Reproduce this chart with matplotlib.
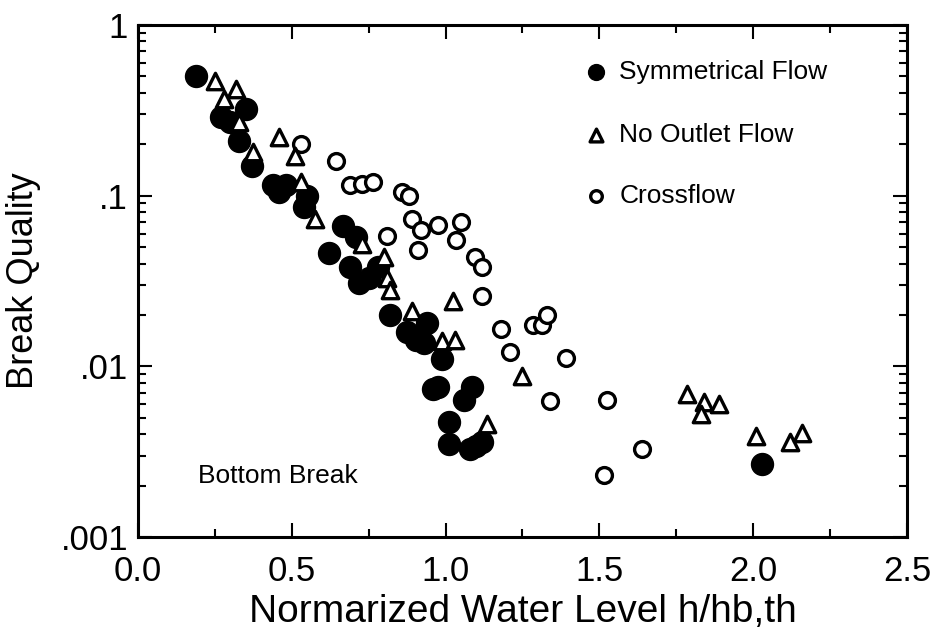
import numpy as np
import matplotlib
matplotlib.use("Agg")
import matplotlib.pyplot as plt
from matplotlib.ticker import FixedLocator, FixedFormatter, LogLocator, MultipleLocator, NullFormatter

plt.rcParams['font.family'] = ['Liberation Sans', 'DejaVu Sans']

# Symmetrical Flow (filled circles)
sym_x = [0.19, 0.27, 0.35, 0.30, 0.33, 0.37, 0.44, 0.48, 0.46, 0.55, 0.54,
         0.667, 0.62, 0.69, 0.72, 0.75, 0.71, 0.78, 0.82, 0.875, 0.905, 0.94,
         0.93, 0.99, 0.96, 0.975, 1.085, 1.06, 1.01, 1.01, 1.08, 1.10, 1.12, 2.03]
sym_y = [0.50, 0.29, 0.32, 0.27, 0.21, 0.15, 0.115, 0.115, 0.105, 0.10, 0.086,
         0.066, 0.046, 0.038, 0.031, 0.033, 0.057, 0.038, 0.020, 0.0158, 0.0143, 0.018,
         0.0137, 0.011, 0.0074, 0.0076, 0.0076, 0.0064, 0.0047, 0.0035, 0.0033, 0.0034, 0.0036, 0.0027]

# No Outlet Flow (open triangles)
nof_x = [0.25, 0.32, 0.28, 0.33, 0.375, 0.46, 0.51, 0.53, 0.575, 0.73, 0.80,
         0.81, 0.82, 0.89, 0.99, 1.03, 1.025, 1.25, 1.135, 1.785, 1.84, 1.83,
         1.89, 2.01, 2.12, 2.16]
nof_y = [0.47, 0.42, 0.37, 0.27, 0.18, 0.22, 0.17, 0.12, 0.073, 0.052, 0.044,
         0.033, 0.028, 0.021, 0.0140, 0.0143, 0.024, 0.0088, 0.0046, 0.0069, 0.0062, 0.0053,
         0.0060, 0.0039, 0.0036, 0.0041]

# Crossflow (open circles)
cf_x = [0.53, 0.645, 0.69, 0.73, 0.765, 0.86, 0.88, 0.89, 0.92, 0.91, 0.81,
        0.975, 1.05, 1.035, 1.095, 1.12, 1.12, 1.18, 1.21, 1.285, 1.315, 1.33,
        1.39, 1.34, 1.525, 1.64, 1.515]
cf_y = [0.20, 0.16, 0.115, 0.117, 0.12, 0.105, 0.10, 0.073, 0.063, 0.048, 0.058,
        0.067, 0.070, 0.055, 0.044, 0.038, 0.026, 0.0165, 0.0122, 0.0175, 0.0175, 0.020,
        0.0112, 0.0063, 0.0064, 0.0033, 0.0023]

legend_labels = ['Symmetrical Flow', 'No Outlet Flow', 'Crossflow']
xtick_labels = ['0.0', '0.5', '1.0', '1.5', '2.0', '2.5']
ytick_labels = ['.001', '.01', '.1', '1']

fig = plt.figure(figsize=(9.38, 6.38), dpi=100)
ax = fig.add_axes([0.147, 0.158, 0.820, 0.803])

ax.scatter(sym_x, sym_y, s=250, c='black', marker='o', zorder=3)
ax.scatter(cf_x, cf_y, s=130, facecolors='white', edgecolors='black',
           linewidths=2.4, marker='o', zorder=4)
ax.scatter(nof_x, nof_y, s=140, facecolors='white', edgecolors='black',
           linewidths=2.4, marker='^', zorder=5)

ax.set_yscale('log')
ax.set_xlim(0, 2.5)
ax.set_ylim(0.001, 1)

ax.set_xticks([0, 0.5, 1.0, 1.5, 2.0, 2.5])
ax.set_xticklabels(xtick_labels)
ax.xaxis.set_minor_locator(MultipleLocator(0.25))

ax.yaxis.set_major_locator(FixedLocator([0.001, 0.01, 0.1, 1]))
ax.yaxis.set_major_formatter(FixedFormatter(ytick_labels))
ax.yaxis.set_minor_locator(LogLocator(base=10, subs=np.arange(2, 10)))
ax.yaxis.set_minor_formatter(NullFormatter())

ax.tick_params(which='both', direction='in', top=True, right=True, width=1.5)
ax.tick_params(which='major', length=10, labelsize=25)
ax.tick_params(axis='x', which='major', pad=13)
ax.tick_params(axis='y', which='major', pad=7)
ax.tick_params(which='minor', length=6)
for sp in ax.spines.values():
    sp.set_linewidth(2.2)

ax.set_xlabel('Normarized Water Level h/hb,th', fontsize=28, labelpad=4)
ax.set_ylabel('Break Quality', fontsize=26, labelpad=14)

ax.text(0.195, 0.00207, 'Bottom Break', fontsize=19)

# legend drawn inside the axes
leg_y = [0.53, 0.227, 0.10]
ax.scatter([1.49], [leg_y[0]], s=130, c='black', marker='o', zorder=3)
ax.scatter([1.49], [leg_y[1]], s=85, facecolors='white', edgecolors='black',
           linewidths=2.4, marker='^', zorder=3)
ax.scatter([1.49], [leg_y[2]], s=70, facecolors='white', edgecolors='black',
           linewidths=2.4, marker='o', zorder=3)
for yy, lab in zip(leg_y, legend_labels):
    ax.text(1.565, yy, lab, fontsize=19, va='center')

fig.savefig('out.png', dpi=100)
